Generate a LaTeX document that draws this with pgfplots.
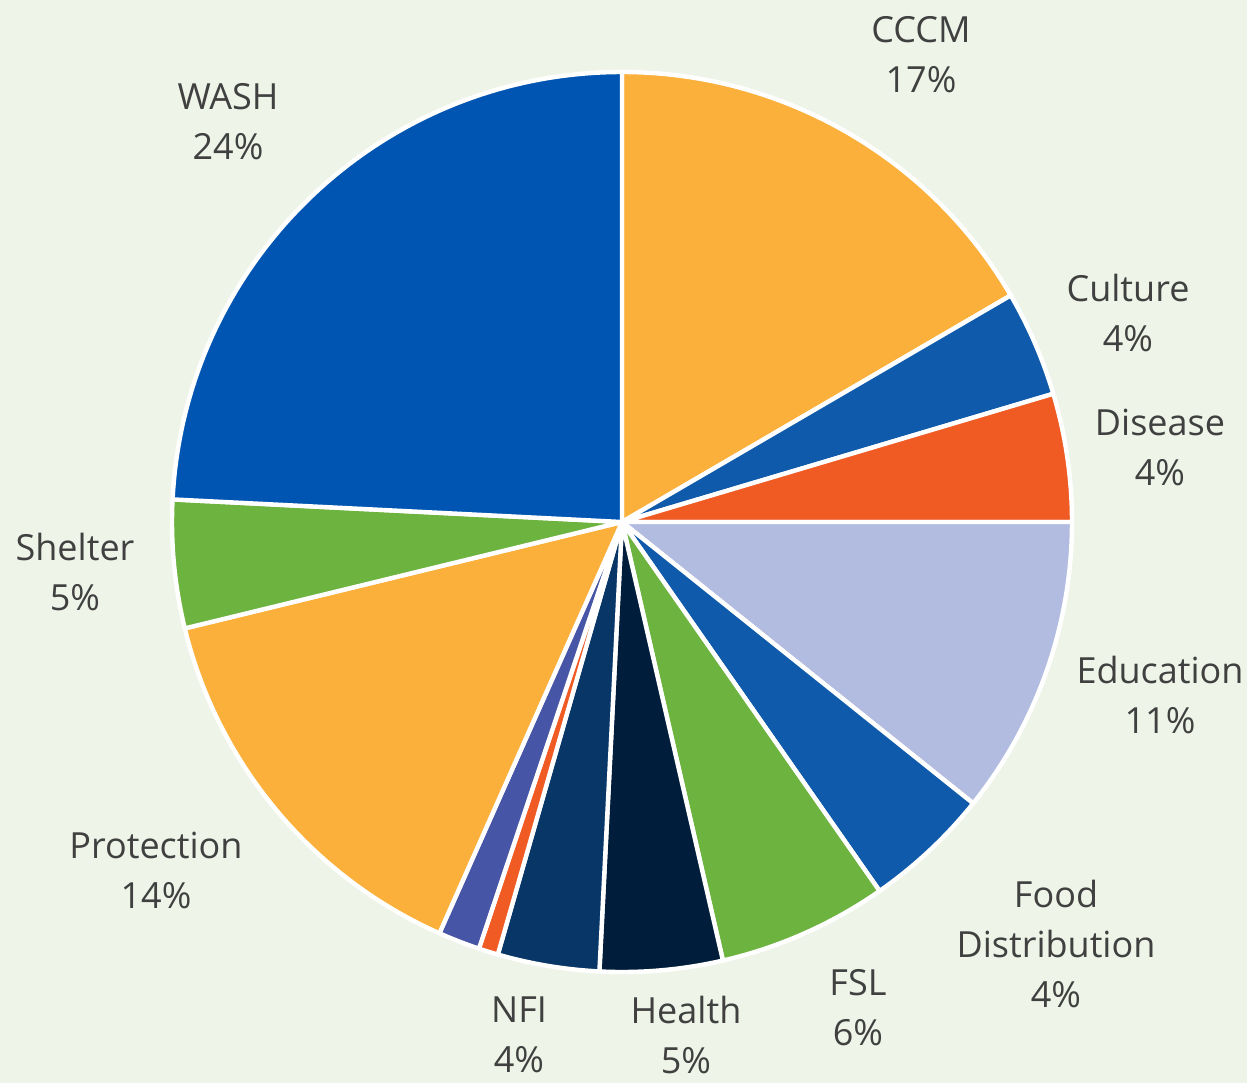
\documentclass[border=0pt]{standalone}
\usepackage{pgfplots}
\pgfplotsset{compat=1.18}
\usepackage{pgfplotstable}
\usepackage{fontspec}
\setmainfont{Open Sans}
\definecolor{bg}{HTML}{EEF5E8}
\definecolor{txt}{HTML}{404040}
\definecolor{cOrange}{HTML}{FBB03B}
\definecolor{cWash}{HTML}{0055B3}
\definecolor{cBlue}{HTML}{0F5AAA}
\definecolor{cRed}{HTML}{F05A23}
\definecolor{cEdu}{HTML}{B1BCE0}
\definecolor{cGreen}{HTML}{6DB33F}
\definecolor{cHealth}{HTML}{001E3C}
\definecolor{cNFI}{HTML}{083666}
\definecolor{cPurple}{HTML}{4655A5}
\pgfplotstableread[col sep=comma]{
name,value,col
CCCM,16.6,cOrange
Culture,3.8,cBlue
Disease,4.6,cRed
Education,10.75,cEdu
FoodDistribution,4.55,cBlue
FSL,6.1,cGreen
Health,4.4,cHealth
NFI,3.65,cNFI
Other1,0.7,cRed
Other2,1.5,cPurple
Protection,14.55,cOrange
Shelter,4.6,cGreen
WASH,24.2,cWash
}\piedata
\begin{document}
\begin{tikzpicture}
\begin{axis}[scale only axis, width=623.5pt, height=541.5pt,
  xmin=0, xmax=1247, ymin=0, ymax=1083, y dir=reverse,
  axis lines=none, ticks=none, clip=false]
\pgfplotsextra{
  \fill[bg] (rel axis cs:0,0) rectangle (rel axis cs:1,1);
  \pgfplotstablegetrowsof{\piedata}
  \pgfmathtruncatemacro{\nrows}{\pgfplotsretval-1}
  \xdef\curang{90}
  \foreach \i in {0,...,\nrows}{
    \pgfplotstablegetelem{\i}{value}\of\piedata
    \pgfmathsetmacro{\endang}{\curang-3.6*\pgfplotsretval}
    \pgfplotstablegetelem{\i}{col}\of\piedata
    \edef\slicecol{\pgfplotsretval}
    \fill[fill=\slicecol, draw=white, line width=2.2pt, line join=round]
      (axis cs:622,522) -- ++(\curang:225pt)
      arc[start angle=\curang, end angle=\endang, radius=225pt] -- cycle;
    \xdef\curang{\endang}
  }
}
\tikzset{lab/.style={align=center, text=txt, inner sep=0pt, font=\fontsize{18}{25}\selectfont}}
\node[lab] at (axis cs:921,55) {CCCM\\17\%};
\node[lab] at (axis cs:1128,313) {Culture\\4\%};
\node[lab] at (axis cs:1160,447) {Disease\\4\%};
\node[lab] at (axis cs:1160,695) {Education\\11\%};
\node[lab] at (axis cs:1056,944) {Food\\Distribution\\4\%};
\node[lab] at (axis cs:858,1008) {FSL\\6\%};
\node[lab] at (axis cs:686,1035) {Health\\5\%};
\node[lab] at (axis cs:519,1035) {NFI\\4\%};
\node[lab] at (axis cs:156,870) {Protection\\14\%};
\node[lab] at (axis cs:75,572) {Shelter\\5\%};
\node[lab] at (axis cs:228,122) {WASH\\24\%};
\end{axis}
\pgfresetboundingbox
\path (current axis.south west) rectangle (current axis.north east);
\end{tikzpicture}
\end{document}
